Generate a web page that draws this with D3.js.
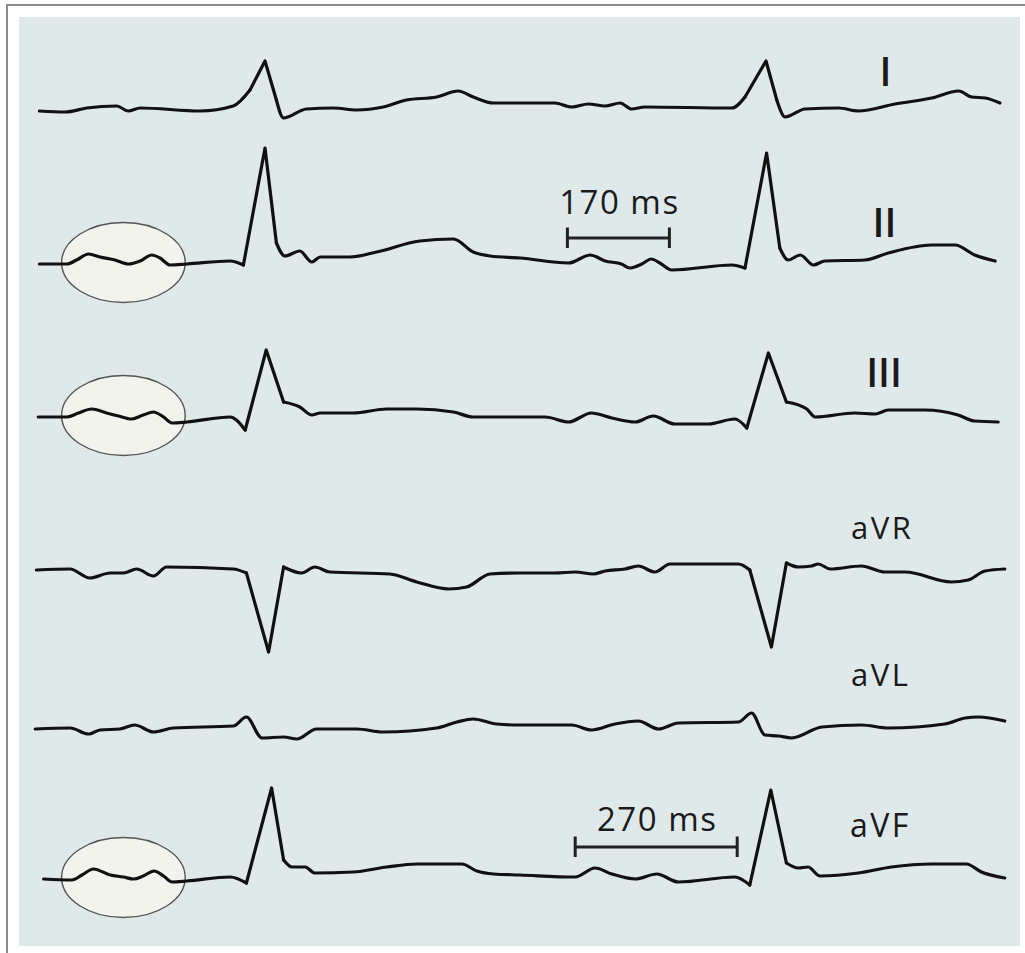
<!DOCTYPE html>
<html>
<head>
<meta charset="utf-8">
<script src="https://cdn.jsdelivr.net/npm/d3@7/dist/d3.min.js"></script>
<style>
  html, body { margin: 0; padding: 0; background: #ffffff; }
  svg { display: block; }
  text { font-family: "Open Sans", "DejaVu Sans", sans-serif; fill: #1a1a1a; }
</style>
</head>
<body>
<svg id="chart" width="1025" height="953"></svg>
<script>
// ---------------- DATA ----------------
const leadNames = ["I", "II", "III", "aVR", "aVL", "aVF"];

// time (ms) and amplitude (mV) for each lead
const leadI_ms = [-1,42,78,128,147,167,267,322,350,375,394,406,444,489,528,572,611,661,697,722,756,800,858,886,914,942,967,986,1008,1153,1175,1210,1228,1242,1275,1331,1364,1425,1486,1531,1553,1575,1600];
const leadI_mv = [0,-0.01,0.03,0.05,0,0.03,0,0.05,0.21,0.50,0.11,-0.07,0.02,0.03,0.01,0.04,0.11,0.14,0.20,0.14,0.08,0.08,0.08,0.04,0.07,0.05,0.08,0.02,0.04,0.03,0.14,0.50,0.11,-0.06,0.02,0.03,0,0.07,0.13,0.20,0.14,0.13,0.08];

const leadII_ms = [-1,45,61,81,100,125,147,167,186,200,217,245,317,339,375,394,408,433,453,467,517,561,633,689,722,750,800,881,917,942,969,983,1003,1019,1033,1053,1153,1175,1211,1233,1247,1267,1289,1308,1375,1414,1486,1525,1558,1592];
const leadII_mv = [0,0,0.04,0.10,0.07,0.04,0,0.03,0.09,0.06,-0.01,0,0.03,-0.01,1.16,0.21,0.08,0.13,0.02,0.07,0.07,0.12,0.23,0.25,0.12,0.08,0.06,0.01,0.09,0.03,0,-0.04,0,0.05,0.01,-0.06,-0.01,-0.04,1.11,0.16,0.04,0.09,-0.01,0.03,0.04,0.11,0.19,0.19,0.09,0.03];

const leadIII_ms = [-3,45,64,86,111,131,153,172,189,206,220,245,317,342,377,406,433,453,467,522,578,628,689,722,800,842,881,919,953,992,1022,1058,1114,1158,1178,1214,1244,1278,1292,1358,1392,1414,1475,1530,1558,1597];
const leadIII_mv = [0,0,0.04,0.08,0.04,0.01,-0.02,0.02,0.05,0,-0.06,-0.05,0,-0.13,0.67,0.15,0.10,0.02,0.04,0.04,0.08,0.08,0.05,0,0,0,-0.05,0.04,-0.01,-0.05,0.01,-0.07,-0.07,-0.02,-0.11,0.64,0.15,0.08,0,0.04,0.03,0.07,0.07,0.02,-0.04,-0.05];

const leadaVR_ms = [-6,50,83,117,139,161,189,211,322,344,381,406,436,458,483,583,628,681,711,750,800,858,892,922,942,975,997,1025,1050,1164,1183,1219,1244,1264,1286,1297,1317,1369,1408,1442,1519,1547,1575,1608];
const leadaVR_mv = [0,0.01,-0.08,-0.03,-0.03,0.01,-0.06,0.03,0.01,-0.03,-0.82,0.03,-0.03,0.03,-0.02,-0.04,-0.12,-0.19,-0.17,-0.04,-0.03,-0.03,-0.02,-0.04,-0.01,0.01,0.04,-0.02,0.06,0.06,0,-0.77,0.07,0.03,0.04,0.06,0.01,0.04,-0.02,-0.02,-0.12,-0.10,-0.01,0.01];

const leadaVL_ms = [-8,50,81,100,133,158,189,222,322,344,370,406,428,461,528,572,661,695,722,761,800,886,919,958,997,1031,1064,1164,1186,1208,1231,1253,1303,1369,1414,1508,1542,1564,1608];
const leadaVL_mv = [0,0.01,-0.05,-0.01,0,0.04,-0.03,0.01,0.03,0.12,-0.09,-0.08,-0.10,0,0,-0.03,0.01,0.07,0.10,0.05,0.04,0.04,-0.01,0.05,0.08,0,0.06,0.07,0.16,-0.06,-0.07,-0.09,0.02,0.04,0.01,0.05,0.11,0.12,0.08];

const leadaVF_ms = [6,53,70,89,117,139,156,172,190,206,220,245,317,344,386,406,420,442,458,522,578,628,703,728,756,800,892,925,953,992,1028,1064,1158,1183,1218,1244,1264,1280,1300,1364,1419,1486,1544,1569,1608];
const leadaVF_mv = [0,-0.01,0.04,0.10,0.04,0.02,0,0.03,0.08,0.03,-0.03,-0.02,0.02,-0.04,0.91,0.19,0.12,0.12,0.06,0.07,0.12,0.15,0.15,0.08,0.05,0.04,0.02,0.11,0.05,0,0.05,-0.03,0.02,-0.06,0.89,0.16,0.11,0.12,0.03,0.06,0.12,0.15,0.15,0.07,0.01];

// interval markers
const intervalLabels = ["170 ms", "270 ms"];
const intervalLeads = ["II", "aVF"];
const intervalStart_ms = [879, 892];
const intervalDuration_ms = [170, 270];
const intervalLevel_mv = [0.26, 0.32];

// highlighted P-wave windows
const highlightLeads = ["II", "III", "aVF"];
const highlightStart_ms = [36, 36, 36];
const highlightEnd_ms = [242, 242, 242];

// ---------------- LAYOUT ----------------
const svg = d3.select("#chart");

// frame
svg.append("rect").attr("x", 19).attr("y", 17).attr("width", 1001).attr("height", 929).attr("fill", "#dfe9ea");
svg.append("line").attr("x1", 7).attr("x2", 1025).attr("y1", 5).attr("y2", 5).attr("stroke", "#8c8c8c").attr("stroke-width", 2);
svg.append("line").attr("x1", 7).attr("x2", 7).attr("y1", 4).attr("y2", 953).attr("stroke", "#8c8c8c").attr("stroke-width", 2);

const x = d3.scaleLinear().domain([0, 1600]).range([40, 1000]);

const baselines = { "I": 111, "II": 264, "III": 417, "aVR": 570, "aVL": 729, "aVF": 879 };
const pxPerMv = 100;
const yScales = {};
leadNames.forEach(n => {
  yScales[n] = d3.scaleLinear().domain([0, 1]).range([baselines[n], baselines[n] - pxPerMv]);
});

const leadData = {
  "I": [leadI_ms, leadI_mv],
  "II": [leadII_ms, leadII_mv],
  "III": [leadIII_ms, leadIII_mv],
  "aVR": [leadaVR_ms, leadaVR_mv],
  "aVL": [leadaVL_ms, leadaVL_mv],
  "aVF": [leadaVF_ms, leadaVF_mv]
};

// highlight ellipses (drawn under traces)
highlightLeads.forEach((n, i) => {
  const x0 = x(highlightStart_ms[i]), x1 = x(highlightEnd_ms[i]);
  svg.append("ellipse")
    .attr("cx", (x0 + x1) / 2)
    .attr("cy", yScales[n](0.015))
    .attr("rx", (x1 - x0) / 2)
    .attr("ry", 40)
    .attr("fill", "#f3f3ee")
    .attr("stroke", "#555")
    .attr("stroke-width", 1.4);
});

// traces: smooth baseline, sharp QRS spikes
leadNames.forEach(n => {
  const [ts, vs] = leadData[n];
  const pts = ts.map((t, i) => ({ t, v: vs[i] }));
  const ys = yScales[n];
  const smooth = d3.line().x(d => x(d.t)).y(d => ys(d.v)).curve(d3.curveMonotoneX);
  const sharp = d3.line().x(d => x(d.t)).y(d => ys(d.v)).curve(d3.curveLinear);
  const spikes = pts.map((d, i) => Math.abs(d.v) >= 0.3 ? i : -1).filter(i => i >= 0);
  const segs = [];
  let start = 0;
  spikes.forEach(p => {
    segs.push({ pts: pts.slice(start, p), kind: "smooth" });
    segs.push({ pts: pts.slice(p - 1, p + 2), kind: "sharp" });
    start = p + 1;
  });
  segs.push({ pts: pts.slice(start), kind: "smooth" });
  const g = svg.append("g")
    .attr("fill", "none")
    .attr("stroke", "#111")
    .attr("stroke-width", 3.2)
    .attr("stroke-linejoin", "round")
    .attr("stroke-linecap", "round");
  segs.filter(s => s.pts.length > 1).forEach(s => {
    g.append("path").datum(s.pts).attr("d", s.kind === "smooth" ? smooth : sharp);
  });
});

// lead labels
const labelPos = {
  "I":   { x: 885.5, y: 86,  size: 39, anchor: "middle", ls: 0, w: 600 },
  "II":  { x: 884.5, y: 237, size: 39, anchor: "middle", ls: 0, w: 600 },
  "III": { x: 884,   y: 387, size: 39, anchor: "middle", ls: 0, w: 600 },
  "aVR": { x: 851,   y: 539, size: 31, anchor: "start",  ls: 2.5, w: 500 },
  "aVL": { x: 851,   y: 686, size: 31, anchor: "start",  ls: 2.5, w: 500 },
  "aVF": { x: 850,   y: 837, size: 32, anchor: "start",  ls: 2.5, w: 500 }
};
leadNames.forEach(n => {
  const p = labelPos[n];
  svg.append("text")
    .attr("x", p.x).attr("y", p.y)
    .attr("text-anchor", p.anchor)
    .attr("font-size", p.size)
    .attr("font-weight", p.w)
    .attr("letter-spacing", p.ls)
    .text(n);
});

// interval bars
const labelGap = [24, 16];
intervalLabels.forEach((lab, i) => {
  const ys = yScales[intervalLeads[i]];
  const xa = x(intervalStart_ms[i]);
  const xb = x(intervalStart_ms[i] + intervalDuration_ms[i]);
  const yb = ys(intervalLevel_mv[i]);
  const g = svg.append("g").attr("stroke", "#222").attr("stroke-width", 3);
  g.append("line").attr("x1", xa).attr("x2", xb).attr("y1", yb).attr("y2", yb);
  g.append("line").attr("x1", xa).attr("x2", xa).attr("y1", yb - 10.5).attr("y2", yb + 10);
  g.append("line").attr("x1", xb).attr("x2", xb).attr("y1", yb - 10.5).attr("y2", yb + 10);
  svg.append("text")
    .attr("x", (xa + xb) / 2 + 1)
    .attr("y", yb - labelGap[i])
    .attr("text-anchor", "middle")
    .attr("font-size", 33)
    .attr("font-weight", 500)
    .attr("letter-spacing", 1.5)
    .text(lab);
});
</script>
</body>
</html>
